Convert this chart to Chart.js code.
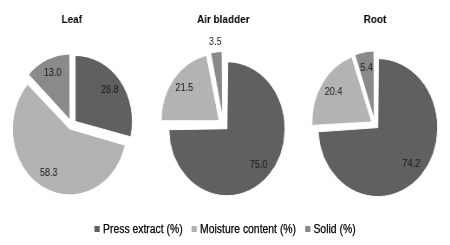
<!DOCTYPE html>
<html>
<head>
<meta charset="utf-8">
<script src="https://cdn.jsdelivr.net/npm/chart.js@4.4.1/dist/chart.umd.min.js"></script>
<style>
  html, body { margin: 0; padding: 0; background: #fff; overflow: hidden; }
  /* the original figure is squeezed horizontally, so draw wide and scale down */
  #wrap { position: relative; width: 519px; height: 245px; transform: scaleX(0.867); transform-origin: 0 0; }
  #wrap canvas { position: absolute; top: 0; }
  #legend { position: absolute; left: 0; right: 0; top: 222px; display: flex; justify-content: center;
            font: 12px "Liberation Sans", Arial, sans-serif; color: #000; white-space: nowrap;
            -webkit-text-stroke: 0.25px #000; }
  #legend span { display: flex; align-items: center; margin: 0 5px; }
  #legend i { display: inline-block; width: 6px; height: 6px; margin-right: 4px; }
</style>
</head>
<body>
<div id="wrap">
  <canvas id="pie0" width="173" height="245" style="left:0;width:173px;height:245px"></canvas>
  <canvas id="pie1" width="173" height="245" style="left:173px;width:173px;height:245px"></canvas>
  <canvas id="pie2" width="173" height="245" style="left:346px;width:173px;height:245px"></canvas>
  <div id="legend"></div>
</div>
<script>
/* DATA */
const categories = ["Leaf", "Air bladder", "Root"];
const seriesNames = ["Press extract (%)", "Moisture content (%)", "Solid (%)"];
const pressExtract = [28.8, 75.0, 74.2];
const moistureContent = [58.3, 21.5, 20.4];
const solid = [13.0, 3.5, 5.4];

/* STYLE */
const sliceColors = ["#606060", "#b3b3b3", "#8a8a8a"];
const explode = [5, 6, 4.5];      // px each slice is pulled out
const radii = [66, 67, 69];
const shiftRight = [7.5, 4, 0];   // right padding to nudge the pie left

// chart.js grows exploded arcs by offset/4 * fix; undo that so all slices keep the same radius
const keepRadius = {
    id: "keepRadius",
    beforeDatasetsDraw(chart) {
        const meta = chart.getDatasetMeta(0);
        const R = meta.controller.outerRadius;
        meta.data.forEach(arc => {
            const d = (arc.options.offset || 0) / 4;
            const circ = arc.endAngle - arc.startAngle;
            arc.outerRadius = R - d * (1 - Math.sin(Math.min(Math.PI, circ)));
        });
    }
};

const sliceLabels = {
    id: "sliceLabels",
    afterDatasetsDraw(chart) {
        const ctx = chart.ctx;
        const meta = chart.getDatasetMeta(0);
        const values = chart.data.datasets[0].data;
        const R = meta.controller.outerRadius;
        ctx.save();
        ctx.font = '10.5px "Liberation Sans", Arial, sans-serif';
        ctx.fillStyle = "#1a1a1a";
        ctx.textAlign = "center";
        ctx.textBaseline = "middle";
        meta.data.forEach((arc, i) => {
            const mid = (arc.startAngle + arc.endAngle) / 2;
            const d = (arc.options.offset || 0) / 4;
            // tiny slices get their label just outside
            const dist = (values[i] < 5 ? R + 10 : R * 0.77) + d;
            ctx.fillText(values[i].toFixed(1), arc.x + Math.cos(mid) * dist, arc.y + Math.sin(mid) * dist);
        });
        ctx.restore();
    }
};

categories.forEach((name, i) => {
    new Chart(document.getElementById("pie" + i), {
        type: "pie",
        data: {
            labels: seriesNames,
            datasets: [{
                data: [pressExtract[i], moistureContent[i], solid[i]],
                backgroundColor: sliceColors,
                borderColor: "#fff",
                borderWidth: 1,
                offset: explode[i] * 4
            }]
        },
        options: {
            responsive: false,
            animation: false,
            events: [],
            radius: radii[i],
            layout: { padding: { left: 0, right: shiftRight[i], top: 0, bottom: 22.8 } },
            plugins: {
                legend: { display: false },
                tooltip: { enabled: false },
                title: {
                    display: true,
                    text: name,
                    color: "#000",
                    font: { family: '"Liberation Sans", Arial, sans-serif', size: 11.5, weight: "bold" },
                    padding: { top: 13, bottom: 0 }
                }
            }
        },
        plugins: [keepRadius, sliceLabels]
    });
});

/* LEGEND */
const legend = document.getElementById("legend");
seriesNames.forEach((s, k) => {
    const item = document.createElement("span");
    const box = document.createElement("i");
    box.style.background = sliceColors[k];
    item.appendChild(box);
    item.appendChild(document.createTextNode(s));
    legend.appendChild(item);
});
</script>
</body>
</html>
